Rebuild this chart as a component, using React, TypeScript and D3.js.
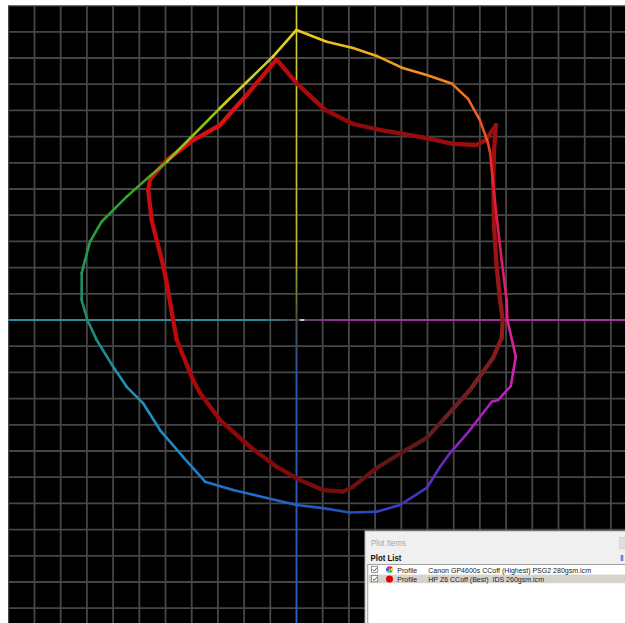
import React from "react";
import * as d3 from "d3";

// Canon GP4600s gamut outline (a*, b*) clockwise from the top
const canonA = [0, 11.5, 21.6, 30.6, 40.2, 49.7, 59.2, 65.5, 70.0, 73.1, 73.9, 75.0, 76.4, 78.3, 80.2, 80.5, 83.7, 81.8, 77.0, 74.5, 66.2, 58.6, 54.8, 49.7, 39.5, 30.6, 20.4, 10.1, 0.1, -11.4, -24.2, -34.9, -43.3, -52.1, -58.6, -64.8, -70.0, -76.3, -79.8, -82.0, -82.0, -80.7, -78.8, -74.4, -64.8, -55.9, -49.5, -29.2, -9.0];
const canonB = [110.7, 106.2, 103.8, 100.8, 96.3, 93.5, 90.3, 84.4, 76.3, 67.6, 63.7, 52.3, 39.4, 22.9, 7.6, 0, -14.0, -25.2, -30.5, -31.2, -42.0, -50.8, -56.0, -64.1, -70.6, -73.2, -73.5, -71.8, -70.6, -67.9, -64.9, -61.7, -52.2, -42.0, -31.7, -25.5, -17.8, -7.6, 0, 7.6, 17.9, 22.9, 29.9, 37.5, 47.1, 55.0, 60.4, 80.9, 100.5];

// HP Z6 gamut outline (a*, b*) clockwise from the top
const hpA = [-7.6, 0.1, 10.9, 21.6, 30.6, 40.6, 49.7, 59.7, 68.8, 72.3, 76.1, 75.4, 75.1, 75.4, 76.4, 77.7, 78.7, 78.3, 75.0, 66.2, 55.9, 49.7, 40.6, 30.6, 21.6, 17.8, 10.1, 1.3, -7.6, -17.7, -29.2, -36.8, -39.5, -45.7, -47.1, -49.5, -51.4, -55.3, -56.6, -55.9, -49.5, -39.4, -29.2, -19.0];
const hpB = [99.5, 90.3, 80.2, 74.8, 72.8, 71.0, 69.4, 67.2, 66.8, 68.7, 74.4, 64.9, 52.3, 35.6, 20.3, 7.6, 0, -6.9, -14.5, -26.7, -38.2, -45.0, -50.3, -56.5, -63.6, -65.5, -64.9, -61.1, -56.0, -48.4, -38.2, -27.9, -22.9, -7.6, 0, 14.1, 22.9, 38.2, 49.6, 53.7, 61.1, 68.7, 74.4, 85.9];

// Grid ticks (every 10 units)
const gridA = d3.range(-110, 131, 10);
const gridB = d3.range(-120, 121, 10);

// Legend
const profileKind = ["Profile", "Profile"];
const profileNames = ["Canon GP4600s CCoff (Highest) PSG2 280gsm.icm", "HP Z6 CCoff (Best)  IDS 260gsm.icm"];

// hue -> colour stops
const canonHue = [-180, -160, -140, -120, -90, -75, -60, -45, -30, -15, 0, 15, 35, 45, 57, 70, 90, 110, 130, 145, 160, 170, 180];
const canonCol = ["#1f8a78", "#2094b0", "#2090c4", "#2078c8", "#2060c4", "#2450c0", "#3a3cc0", "#6a28c0", "#a020c0", "#d020b0", "#e02090", "#e01870", "#e02030", "#f05020", "#f08020", "#f0a020", "#e8d020", "#b8d020", "#60b020", "#30a030", "#20a040", "#209060", "#1f8a78"];
const hpHue = [-180, -150, -120, -90, -70, -45, -20, 0, 30, 60, 75, 90, 105, 130, 150, 180];
const hpCol = ["#c00a0a", "#a80808", "#900808", "#7c0a0a", "#6a1010", "#5a1c1c", "#782020", "#901a1a", "#a01010", "#960c0c", "#8a0a0a", "#b00a0a", "#e01010", "#cc1010", "#c40c0c", "#c00a0a"];

const W = 625;
const H = 623;
const cx = 296.5;
const cy = 320;
const k = 2.62;

const x = d3.scaleLinear().domain([-110, 130]).range([cx - 110 * k, cx + 130 * k]);
const y = d3.scaleLinear().domain([-120, 120]).range([cy + 120 * k, cy - 120 * k]);

function hueColor(hues: number[], cols: string[]) {
  const s = d3.scaleLinear<string>().domain(hues).range(cols).interpolate(d3.interpolateRgb);
  return (a: number, b: number) => s((Math.atan2(b, a) * 180) / Math.PI);
}

function segments(A: number[], B: number[], col: (a: number, b: number) => string) {
  const out: { x1: number; y1: number; x2: number; y2: number; c: string }[] = [];
  const n = A.length;
  for (let i = 0; i < n; i++) {
    const j = (i + 1) % n;
    out.push({
      x1: x(A[i]),
      y1: y(B[i]),
      x2: x(A[j]),
      y2: y(B[j]),
      c: col((A[i] + A[j]) / 2, (B[i] + B[j]) / 2),
    });
  }
  return out;
}

export default function App() {
  const canonSegs = segments(canonA, canonB, hueColor(canonHue, canonCol));
  const hpSegs = segments(hpA, hpB, hueColor(hpHue, hpCol));
  const left = 8;
  const top = 5.6;
  const wheel = d3.pie<number>().sort(null)([1, 1, 1, 1, 1, 1]);
  const wheelCols = ["#e02020", "#e0d020", "#20b020", "#20c0d0", "#2040e0", "#d020d0"];
  const arc = d3.arc<d3.PieArcDatum<number>>().innerRadius(0).outerRadius(3.5);
  const font = "'Liberation Sans', Arial, sans-serif";
  return (
    <svg width={W} height={H} style={{ position: "absolute", left: 0, top: 0, background: "#fff" }}>
      <defs>
        <linearGradient id="axTop" gradientUnits="userSpaceOnUse" x1={0} y1={cy} x2={0} y2={top}>
          <stop offset="0" stopColor="#4a4a4a" />
          <stop offset="0.2" stopColor="#b8b830" />
          <stop offset="1" stopColor="#d0d030" />
        </linearGradient>
        <linearGradient id="axBot" gradientUnits="userSpaceOnUse" x1={0} y1={cy} x2={0} y2={H}>
          <stop offset="0" stopColor="#4a4a4a" />
          <stop offset="0.2" stopColor="#2858b0" />
          <stop offset="1" stopColor="#2860c8" />
        </linearGradient>
        <linearGradient id="axLeft" gradientUnits="userSpaceOnUse" x1={cx} y1={0} x2={left} y2={0}>
          <stop offset="0" stopColor="#4a4a4a" />
          <stop offset="0.12" stopColor="#20a0b0" />
          <stop offset="1" stopColor="#20a8b8" />
        </linearGradient>
        <linearGradient id="axRight" gradientUnits="userSpaceOnUse" x1={cx} y1={0} x2={W} y2={0}>
          <stop offset="0" stopColor="#4a4a4a" />
          <stop offset="0.12" stopColor="#b028b0" />
          <stop offset="1" stopColor="#c030c0" />
        </linearGradient>
        <clipPath id="plotClip">
          <rect x={left} y={top} width={W - left} height={H - top} />
        </clipPath>
      </defs>
      <rect x={left} y={top} width={W - left} height={H - top} fill="#000" />
      <g clipPath="url(#plotClip)">
        {gridA.map((v) => (
          <line key={"ga" + v} x1={x(v)} x2={x(v)} y1={top} y2={H} stroke="#464646" strokeWidth={1.8} />
        ))}
        {gridB.map((v) => (
          <line key={"gb" + v} x1={left} x2={W} y1={y(v)} y2={y(v)} stroke="#464646" strokeWidth={1.8} />
        ))}
        <line x1={x(0)} x2={x(0)} y1={y(0)} y2={top} stroke="url(#axTop)" strokeWidth={1.4} />
        <line x1={x(0)} x2={x(0)} y1={y(0)} y2={H} stroke="url(#axBot)" strokeWidth={1.4} />
        <line x1={x(0)} x2={left} y1={y(0)} y2={y(0)} stroke="url(#axLeft)" strokeWidth={1.4} />
        <line x1={x(0)} x2={W} y1={y(0)} y2={y(0)} stroke="url(#axRight)" strokeWidth={1.4} />
        <line x1={x(1.3)} x2={x(3)} y1={y(0)} y2={y(0)} stroke="#e8e8e8" strokeWidth={1.6} />
        {hpSegs.map((s, i) => (
          <line key={"h" + i} x1={s.x1} y1={s.y1} x2={s.x2} y2={s.y2} stroke={s.c} strokeWidth={4.3} strokeLinecap="round" />
        ))}
        {canonSegs.map((s, i) => (
          <line key={"c" + i} x1={s.x1} y1={s.y1} x2={s.x2} y2={s.y2} stroke={s.c} strokeWidth={2.6} strokeLinecap="round" />
        ))}
      </g>
      {/* Plot Items panel */}
      <g>
        <rect x={365} y={531} width={262} height={94} fill="#f0f0f0" stroke="#b4b4b4" strokeWidth={1} />
        <rect x={619.5} y={537.5} width={8} height={11} fill="#dedede" stroke="#c8c8c8" strokeWidth={0.6} />
        <text x={371} y={545.5} fontFamily={font} fontSize={8.6} fill="#a8a8a8" textLength={35} lengthAdjust="spacingAndGlyphs">Plot Items</text>
        <text x={370.5} y={561.3} fontFamily={font} fontSize={8.6} fontWeight="bold" fill="#101010" textLength={31} lengthAdjust="spacingAndGlyphs">Plot List</text>
        <path d="M620.5,556 l3,0 M620.5,558 l3,0 M620.5,560 l3,0 M622,555 l0,6" stroke="#3050d0" strokeWidth={0.9} />
        <rect x={367.8} y={564.5} width={260} height={62} fill="#ffffff" stroke="#8c8c8c" strokeWidth={0.8} />
        <rect x={368.5} y={574.6} width={258} height={8.6} fill="#d6d3ce" />
        {profileNames.map((name, i) => {
          const ry = 569.6 + i * 9.3;
          return (
            <g key={name}>
              <rect x={371.5} y={ry - 3.3} width={6.2} height={6.2} fill="#fff" stroke="#6e6e6e" strokeWidth={0.7} />
              <path d={`M372.8,${ry - 0.2} l1.5,1.6 l2.6,-3.2`} fill="none" stroke="#303030" strokeWidth={0.8} />
              {i === 0 ? (
                <g transform={`translate(389.5,${ry})`}>
                  {wheel.map((w, j) => (
                    <path key={j} d={arc(w) || ""} fill={wheelCols[j]} />
                  ))}
                </g>
              ) : (
                <circle cx={389.5} cy={ry} r={3.5} fill="#e00000" />
              )}
              <text x={397.3} y={ry + 3} fontFamily={font} fontSize={7.6} fill="#202020" textLength={20} lengthAdjust="spacingAndGlyphs">{profileKind[i]}</text>
              <text x={428.3} y={ry + 3} fontFamily={font} fontSize={7.6} fill="#202020" textLength={i === 0 ? 162.7 : 115.7} lengthAdjust="spacingAndGlyphs" style={{ whiteSpace: "pre" }}>{name}</text>
            </g>
          );
        })}
      </g>
    </svg>
  );
}
